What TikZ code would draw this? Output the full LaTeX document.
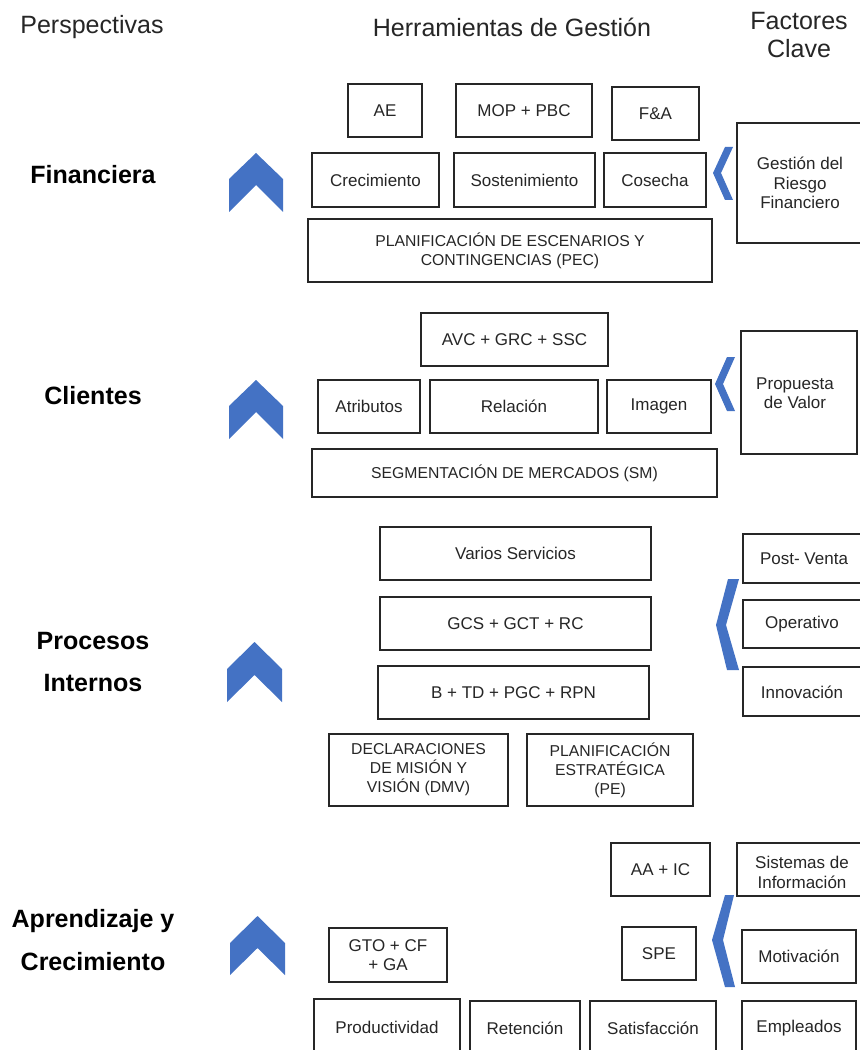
\documentclass[tikz,border=0pt]{standalone}
\usepackage{fontspec}
\setmainfont{Liberation Sans}
\usepackage{tikz}
\definecolor{chevblue}{HTML}{4472C4}
\definecolor{boxline}{HTML}{262626}

\begin{document}
\begin{tikzpicture}[
  box/.style={fill=white, draw=boxline, line width=0.9pt},
  lbl/.style={text=black!85, align=center, font=\fontsize{12.1}{13.9}\selectfont},
  capslbl/.style={text=black!85, align=center, font=\fontsize{11.2}{13.5}\selectfont},
  head/.style={text=black!85, align=center, font=\fontsize{17.8}{19.9}\selectfont},
  persp/.style={text=black, align=center, font=\bfseries\fontsize{17.8}{30.5}\selectfont},
  chev/.style={fill=chevblue, draw=none}]
  \filldraw[fill=white, draw=none] (0cm,0cm) rectangle (21.475cm,-26.25cm);
  \useasboundingbox (0cm,0cm) rectangle (21.475cm,-26.25cm);

  % column titles
  \node[head] (titPersp) at (2.3cm,-0.675cm) {Perspectivas};
  \node[head] (titHerr) at (12.8cm,-0.675cm) {Herramientas de Gestión};
  \node[head] (titFact) at (19.975cm,-0.875cm) {Factores\\Clave};

  % financiera
  \node[persp] (pFin) at (2.325cm,-4.375cm) {Financiera};
  \filldraw[chev] (5.725cm,-4.475cm) -- (6.4cm,-3.825cm) -- (7.075cm,-4.475cm) -- (7.075cm,-5.3cm) -- (6.4cm,-4.625cm) -- (5.725cm,-5.3cm) -- cycle;
  \filldraw[box] (8.7cm,-2.1cm) rectangle (10.55cm,-3.425cm);
  \node[lbl] (ae) at (9.625cm,-2.7625cm) {AE};
  \filldraw[box] (11.4cm,-2.1cm) rectangle (14.8cm,-3.425cm);
  \node[lbl] (mop) at (13.1cm,-2.7625cm) {MOP + PBC};
  \filldraw[box] (15.3cm,-2.175cm) rectangle (17.475cm,-3.5cm);
  \node[lbl] (fya) at (16.3875cm,-2.8375cm) {F\&A};
  \filldraw[box] (7.8cm,-3.825cm) rectangle (10.975cm,-5.175cm);
  \node[lbl] (crec) at (9.3875cm,-4.5cm) {Crecimiento};
  \filldraw[box] (11.35cm,-3.825cm) rectangle (14.875cm,-5.175cm);
  \node[lbl] (sost) at (13.1125cm,-4.5cm) {Sostenimiento};
  \filldraw[box] (15.1cm,-3.825cm) rectangle (17.65cm,-5.175cm);
  \node[lbl] (cose) at (16.375cm,-4.5cm) {Cosecha};
  \filldraw[box] (7.7cm,-5.475cm) rectangle (17.8cm,-7.05cm);
  \node[capslbl] (pec) at (12.75cm,-6.2625cm) {PLANIFICACIÓN DE ESCENARIOS Y\\CONTINGENCIAS (PEC)};
  \filldraw[chev] (18.125cm,-3.675cm) -- (17.825cm,-4.325cm) -- (18.125cm,-5.0cm) -- (18.325cm,-5.0cm) -- (18.025cm,-4.325cm) -- (18.325cm,-3.675cm) -- cycle;
  \filldraw[box] (18.425cm,-3.075cm) rectangle (21.6cm,-6.075cm);
  \node[lbl] (riesgo) at (20.0cm,-4.575cm) {Gestión del\\Riesgo\\Financiero};

  % clientes
  \node[persp] (pCli) at (2.325cm,-9.9cm) {Clientes};
  \filldraw[chev] (5.725cm,-10.15cm) -- (6.4cm,-9.5cm) -- (7.075cm,-10.15cm) -- (7.075cm,-10.975cm) -- (6.4cm,-10.3cm) -- (5.725cm,-10.975cm) -- cycle;
  \filldraw[box] (10.525cm,-7.825cm) rectangle (15.2cm,-9.15cm);
  \node[lbl] (avc) at (12.8625cm,-8.4875cm) {AVC + GRC + SSC};
  \filldraw[box] (7.95cm,-9.5cm) rectangle (10.5cm,-10.825cm);
  \node[lbl] (atri) at (9.225cm,-10.1625cm) {Atributos};
  \filldraw[box] (10.75cm,-9.5cm) rectangle (14.95cm,-10.825cm);
  \node[lbl] (rela) at (12.85cm,-10.1625cm) {Relación};
  \filldraw[box] (15.175cm,-9.5cm) rectangle (17.775cm,-10.825cm);
  \node[lbl] (imag) at (16.475cm,-10.1625cm) {Imagen};
  \filldraw[box] (7.8cm,-11.225cm) rectangle (17.925cm,-12.425cm);
  \node[capslbl] (sm) at (12.8625cm,-11.825cm) {SEGMENTACIÓN DE MERCADOS (SM)};
  \filldraw[chev] (18.175cm,-8.925cm) -- (17.875cm,-9.6cm) -- (18.175cm,-10.275cm) -- (18.375cm,-10.275cm) -- (18.075cm,-9.6cm) -- (18.375cm,-8.925cm) -- cycle;
  \filldraw[box] (18.525cm,-8.275cm) rectangle (21.425cm,-11.35cm);
  \node[lbl] (valor) at (19.875cm,-9.825cm) {Propuesta\\de Valor};

  % procesos internos
  \node[persp] (pProc) at (2.325cm,-16.55cm) {Procesos\\Internos};
  \filldraw[chev] (5.675cm,-16.725cm) -- (6.3625cm,-16.05cm) -- (7.05cm,-16.725cm) -- (7.05cm,-17.55cm) -- (6.3625cm,-16.875cm) -- (5.675cm,-17.55cm) -- cycle;
  \filldraw[box] (9.5cm,-13.175cm) rectangle (16.275cm,-14.5cm);
  \node[lbl] (varios) at (12.8875cm,-13.8375cm) {Varios Servicios};
  \filldraw[box] (9.5cm,-14.925cm) rectangle (16.275cm,-16.25cm);
  \node[lbl] (gcs) at (12.8875cm,-15.5875cm) {GCS + GCT + RC};
  \filldraw[box] (9.45cm,-16.65cm) rectangle (16.225cm,-17.975cm);
  \node[lbl] (btd) at (12.8375cm,-17.3125cm) {B + TD + PGC + RPN};
  \filldraw[box] (8.225cm,-18.35cm) rectangle (12.7cm,-20.15cm);
  \node[capslbl] (dmv) at (10.4625cm,-19.25cm) {DECLARACIONES\\DE MISIÓN Y\\VISIÓN (DMV)};
  \filldraw[box] (13.175cm,-18.35cm) rectangle (17.325cm,-20.15cm);
  \node[capslbl] (pe) at (15.25cm,-19.25cm) {PLANIFICACIÓN\\ESTRATÉGICA\\(PE)};
  \filldraw[chev] (18.2cm,-14.475cm) -- (17.9cm,-15.625cm) -- (18.175cm,-16.75cm) -- (18.475cm,-16.75cm) -- (18.15cm,-15.625cm) -- (18.475cm,-14.475cm) -- cycle;
  \filldraw[box] (18.575cm,-13.35cm) rectangle (21.6cm,-14.575cm);
  \node[lbl] (postv) at (20.1cm,-13.975cm) {Post- Venta};
  \filldraw[box] (18.575cm,-15.0cm) rectangle (21.6cm,-16.2cm);
  \node[lbl] (opera) at (20.05cm,-15.6cm) {Operativo};
  \filldraw[box] (18.575cm,-16.675cm) rectangle (21.6cm,-17.9cm);
  \node[lbl] (innov) at (20.05cm,-17.3cm) {Innovación};

  % aprendizaje y crecimiento
  \node[persp] (pApr) at (2.325cm,-23.5cm) {Aprendizaje y\\Crecimiento};
  \filldraw[chev] (5.75cm,-23.575cm) -- (6.4375cm,-22.9cm) -- (7.125cm,-23.575cm) -- (7.125cm,-24.375cm) -- (6.4375cm,-23.7cm) -- (5.75cm,-24.375cm) -- cycle;
  \filldraw[box] (15.275cm,-21.075cm) rectangle (17.75cm,-22.4cm);
  \node[lbl] (aaic) at (16.5125cm,-21.7375cm) {AA + IC};
  \filldraw[box] (18.425cm,-21.075cm) rectangle (21.6cm,-22.4cm);
  \node[lbl] (sist) at (20.05cm,-21.8125cm) {Sistemas de\\Información};
  \filldraw[box] (8.225cm,-23.2cm) rectangle (11.175cm,-24.55cm);
  \node[lbl] (gto) at (9.7cm,-23.875cm) {GTO + CF\\+ GA};
  \filldraw[box] (15.55cm,-23.175cm) rectangle (17.4cm,-24.5cm);
  \node[lbl] (spe) at (16.475cm,-23.8375cm) {SPE};
  \filldraw[chev] (18.125cm,-22.375cm) -- (17.8cm,-23.5cm) -- (18.125cm,-24.675cm) -- (18.375cm,-24.675cm) -- (18.075cm,-23.5cm) -- (18.35cm,-22.375cm) -- cycle;
  \filldraw[box] (18.55cm,-23.25cm) rectangle (21.4cm,-24.575cm);
  \node[lbl] (motiv) at (19.975cm,-23.9125cm) {Motivación};
  \filldraw[box] (7.85cm,-24.975cm) rectangle (11.5cm,-26.5cm);
  \node[lbl] (produ) at (9.675cm,-25.675cm) {Productividad};
  \filldraw[box] (11.75cm,-25.025cm) rectangle (14.5cm,-26.5cm);
  \node[lbl] (reten) at (13.125cm,-25.7cm) {Retención};
  \filldraw[box] (14.75cm,-25.025cm) rectangle (17.9cm,-26.5cm);
  \node[lbl] (satis) at (16.325cm,-25.7cm) {Satisfacción};
  \filldraw[box] (18.55cm,-25.025cm) rectangle (21.4cm,-26.5cm);
  \node[lbl] (emple) at (19.975cm,-25.7cm) {Empleados};
\end{tikzpicture}
\end{document}
